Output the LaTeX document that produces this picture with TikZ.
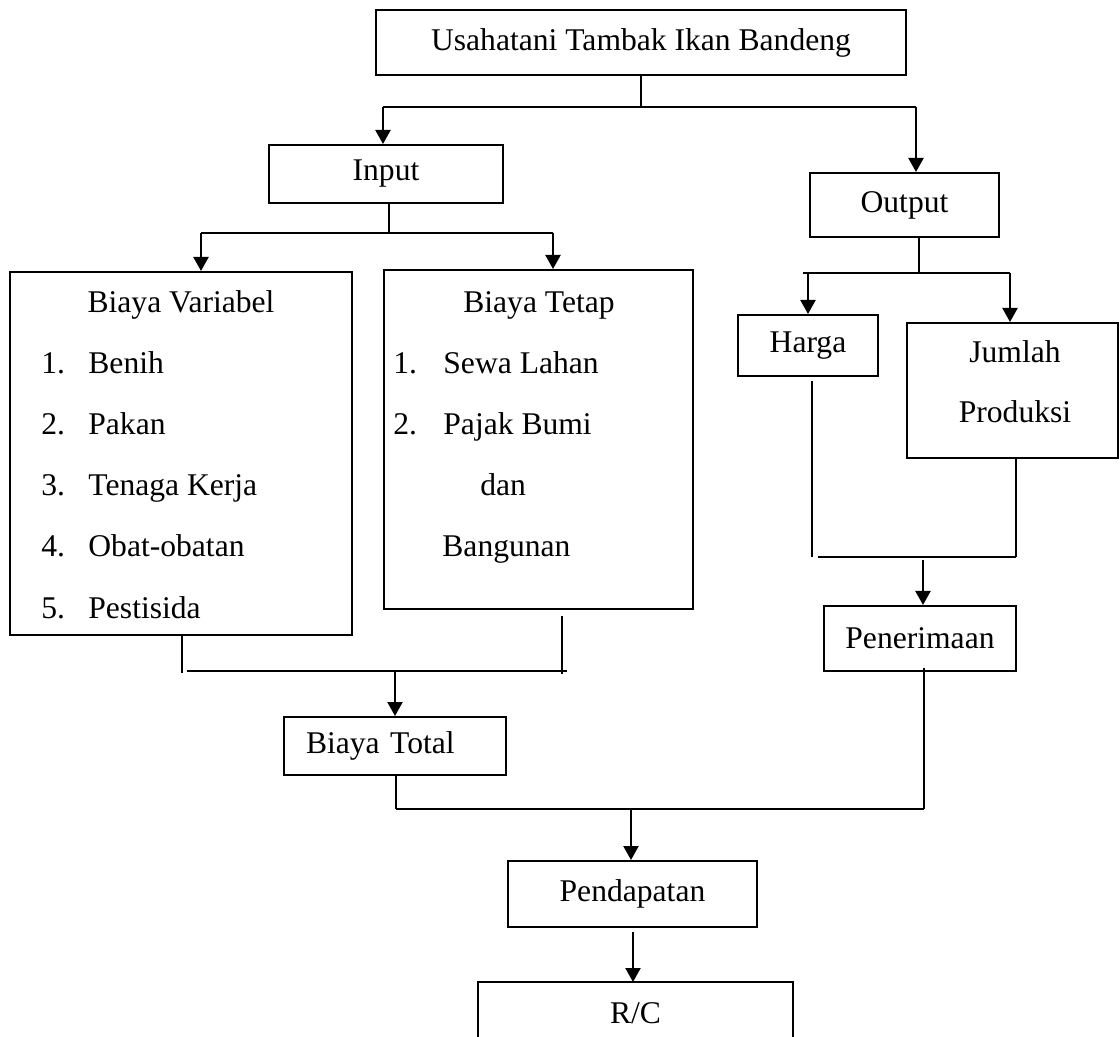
\documentclass[tikz,border=0pt]{standalone}
\usepackage{fontspec}
\setmainfont{Liberation Serif}
\usetikzlibrary{arrows.meta}
\newcommand{\diafont}{\fontsize{15.8}{19}\selectfont}
\tikzset{
  box/.style={draw, line width=1pt, inner sep=0pt, font=\diafont},
  txt/.style={inner sep=0pt, font=\diafont},
  conn/.style={line width=0.75pt},
  arr/.style={line width=1.1pt, -{Triangle[length=7pt,width=7.5pt]}}
}
\begin{document}
\begin{tikzpicture}[x=0.5pt,y=-0.5pt]
\useasboundingbox (0,0) rectangle (1120,1037);
% boxes
\node[box, minimum width=265pt, minimum height=32.5pt] (top) at (641,42.5) {Usahatani Tambak Ikan Bandeng};
\node[box, minimum width=117pt, minimum height=29pt] (input) at (386,174) {Input};
\node[box, minimum width=94.5pt, minimum height=32pt] (output) at (904.5,205) {Output};
\node[box, minimum width=171pt, minimum height=181.5pt] (bv) at (181,453.5) {};
\node[box, minimum width=154.5pt, minimum height=169.5pt] (bt) at (538.5,439.5) {};
\node[box, minimum width=70pt, minimum height=30.5pt] (harga) at (808,345.5) {Harga};
\node[box, minimum width=105.5pt, minimum height=67.5pt] (jp) at (1012.5,390.5) {};
\node[box, minimum width=96pt, minimum height=32.5pt] (pen) at (920,638.5) {Penerimaan};
\node[box, minimum width=111pt, minimum height=29pt, text width=89pt, align=left, inner xsep=11pt] (bto) at (395,746) {Biaya Total};
\node[box, minimum width=124.5pt, minimum height=33pt] (pend) at (632.5,894) {Pendapatan};
\node[txt, minimum width=157.5pt, minimum height=31pt] (rc) at (635.5,1013) {R/C};
\draw[line width=1pt] (rc.south west) -- (rc.north west) -- (rc.north east) -- (rc.south east);
% texts in Biaya Variabel
\node[txt, anchor=base] (bvt) at (181,313) {Biaya Variabel};
\node[txt, anchor=base west] (bvn1) at (41,374) {1.};
\node[txt, anchor=base west] (bvi1) at (88,374) {Benih};
\node[txt, anchor=base west] (bvn2) at (41,435) {2.};
\node[txt, anchor=base west] (bvi2) at (88,435) {Pakan};
\node[txt, anchor=base west] (bvn3) at (41,496) {3.};
\node[txt, anchor=base west] (bvi3) at (88,496) {Tenaga Kerja};
\node[txt, anchor=base west] (bvn4) at (41,557) {4.};
\node[txt, anchor=base west] (bvi4) at (88,557) {Obat-obatan};
\node[txt, anchor=base west] (bvn5) at (41,618) {5.};
\node[txt, anchor=base west] (bvi5) at (88,618) {Pestisida};
% texts in Biaya Tetap
\node[txt, anchor=base] (btt) at (539,313) {Biaya Tetap};
\node[txt, anchor=base west] (btn1) at (393,374) {1.};
\node[txt, anchor=base west] (bti1) at (443,374) {Sewa Lahan};
\node[txt, anchor=base west] (btn2) at (393,435) {2.};
\node[txt, anchor=base west] (bti2) at (443,435) {Pajak Bumi};
\node[txt, anchor=base west] (bti3) at (480,496) {dan};
\node[txt, anchor=base west] (bti4) at (442,557) {Bangunan};
% texts in Jumlah Produksi
\node[txt, anchor=base] (jp1) at (1015,363) {Jumlah};
\node[txt, anchor=base] (jp2) at (1015,423) {Produksi};
% junction coordinates
\coordinate (a1) at (383,107);
\coordinate (a2) at (916,107);
\coordinate (b1) at (201,233);
\coordinate (b2) at (553,233);
\coordinate (c1) at (803,273);
\coordinate (c2) at (1010,273);
\coordinate (c3) at (808,273);
\coordinate (d1) at (812,557);
\coordinate (d2) at (1016,557);
\coordinate (d3) at (923,557);
\coordinate (e1) at (187,671);
\coordinate (e2) at (567,671);
\coordinate (e3) at (395,671);
\coordinate (f1) at (396,809);
\coordinate (f2) at (924,809);
\coordinate (f3) at (631,809);
% connectors
\draw[conn] (top.south) -- (top.south |- a1);
\draw[conn] (a1) -- (a2);
\draw[arr] (a1) -- (a1 |- input.north);
\draw[arr] (a2) -- (a2 |- output.north);
\draw[conn] (input.south -| 389,0) -- (389,233);
\draw[conn] (b1) -- (b2);
\draw[arr] (b1) -- (b1 |- bv.north);
\draw[arr] (b2) -- (b2 |- bt.north);
\draw[conn] (output.south -| 919,0) -- (919,273);
\draw[conn] (c1) -- (c2);
\draw[arr] (c3) -- (c3 |- harga.north);
\draw[arr] (c2) -- (c2 |- jp.north);
\draw[conn] (harga.south -| d1) ++(0,4) -- (d1);
\draw[conn] (d1 -| 818,0) -- (d2);
\draw[conn] (jp.south -| d2) -- (d2);
\draw[arr] (d3) ++(0,3) -- (d3 |- pen.north);
\draw[conn] (bv.south -| 182,0) -- (182,673);
\draw[conn] (e1) -- (e2);
\draw[conn] (bt.south -| 562,0) ++(0,6) -- (562,674);
\draw[arr] (e3) -- (e3 |- bto.north);
\draw[conn] (bto.south -| f1) -- (f1);
\draw[conn] (f1) -- (f2);
\draw[conn] (pen.south -| f2) ++(0,-4) -- (f2);
\draw[arr] (f3) -- (f3 |- pend.north);
\draw[arr] (pend.south -| 633,0) ++(0,4) -- (633,982);
\end{tikzpicture}
\end{document}
